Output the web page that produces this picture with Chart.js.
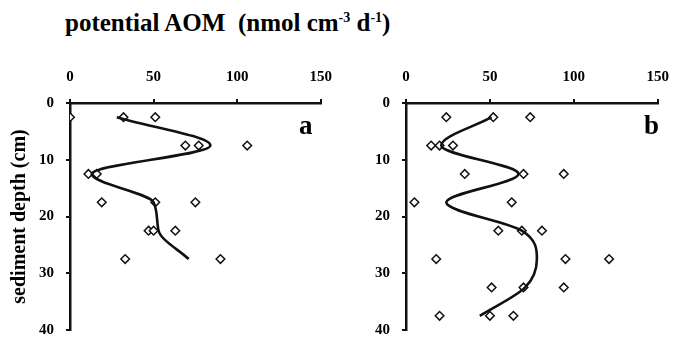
<!DOCTYPE html>
<html>
<head>
<meta charset="utf-8">
<script src="https://cdn.jsdelivr.net/npm/chart.js@4"></script>
<style>
  html, body { margin: 0; padding: 0; background: #fff; }
  body { width: 682px; height: 351px; position: relative; overflow: hidden; font-family: "Liberation Serif", "Times New Roman", serif; }
  #title { position: absolute; left: 65px; top: 9px; font-weight: bold; font-size: 25px; white-space: nowrap; color: #000; }
  #title sup { font-size: 14px; }
  .tag { position: absolute; font-weight: bold; font-size: 27px; color: #000; }
  .wrap { position: absolute; top: 55px; height: 296px; }
</style>
</head>
<body>
<div id="title">potential AOM &nbsp;(nmol cm<sup>-3</sup> d<sup>-1</sup>)</div>
<div class="wrap" style="left:0;width:345px"><canvas id="chartA"></canvas></div>
<div class="wrap" style="left:350px;width:332px"><canvas id="chartB"></canvas></div>
<div class="tag" style="left:299px;top:110px">a</div>
<div class="tag" style="left:644px;top:110px">b</div>
<script>
// panel a: measured rates
const depthA = [2.5, 2.5, 2.5, 7.5, 7.5, 7.5, 12.5, 12.5, 17.5, 17.5, 17.5, 22.5, 22.5, 22.5, 27.5, 27.5];
const aomA = [0, 32, 51, 69, 77, 106, 11, 16, 19, 51, 75, 47, 50, 63, 33, 90];
// panel a: fitted profile
const fitDepthA = [2.5, 7.5, 12.5, 17.5, 22.5, 27.5];
const fitA = [28, 84, 13, 50, 53, 71];

// panel b: measured rates
const depthB = [2.5, 2.5, 2.5, 7.5, 7.5, 7.5, 12.5, 12.5, 12.5, 17.5, 17.5, 22.5, 22.5, 22.5,
                27.5, 27.5, 27.5, 32.5, 32.5, 32.5, 37.5, 37.5, 37.5];
const aomB = [24, 52, 74, 15, 20, 28, 35, 70, 94, 5, 63, 55, 69, 81, 18, 95, 121, 51, 70, 94, 20, 50, 64];
// panel b: fitted profile
const fitDepthB = [2.5, 7.5, 12.5, 17.5, 22.5, 27.5, 32.5, 37.5];
const fitB = [51, 21, 67, 24, 69, 78, 71, 44];

const xTicks = [0, 50, 100, 150];
const yTicks = [0, 10, 20, 30, 40];

const serif = "'Liberation Serif', 'Times New Roman', serif";
const tickFont = { family: serif, size: 15, weight: 'bold' };

function pairs(xs, ys) {
  return xs.map((v, i) => ({ x: v, y: ys[i] }));
}

function makeChart(id, depths, vals, fitDepths, fit, yWidth, padRight, showTitle) {
  new Chart(document.getElementById(id), {
    type: 'line',
    data: {
      datasets: [
        {
          data: pairs(fit, fitDepths),
          borderColor: '#111',
          borderWidth: 2.6,
          pointRadius: 0,
          cubicInterpolationMode: 'monotone',
          fill: false
        },
        {
          data: pairs(vals, depths),
          showLine: false,
          pointStyle: 'rectRot',
          pointRadius: 4.3,
          pointBorderWidth: 1.5,
          pointBorderColor: '#111',
          pointBackgroundColor: '#fff'
        }
      ]
    },
    options: {
      indexAxis: 'y',
      responsive: true,
      maintainAspectRatio: false,
      animation: false,
      layout: { padding: { left: 0, top: 0, right: padRight, bottom: 8 } },
      plugins: { legend: { display: false }, tooltip: { enabled: false } },
      scales: {
        x: {
          type: 'linear',
          position: 'top',
          min: 0, max: 150,
          afterBuildTicks: s => { s.ticks = xTicks.map(v => ({ value: v })); },
          afterFit: s => { s.height = 48; },
          ticks: { font: tickFont, color: '#000', padding: 13, maxRotation: 0 },
          grid: { drawOnChartArea: false, drawTicks: true, tickLength: 4, color: '#111', lineWidth: 2 },
          border: { color: '#111', width: 2.5 }
        },
        y: {
          type: 'linear',
          reverse: true,
          min: 0, max: 40,
          afterBuildTicks: s => { s.ticks = yTicks.map(v => ({ value: v })); },
          afterFit: s => { s.width = yWidth; },
          ticks: { font: tickFont, color: '#000', padding: 12 },
          grid: { drawOnChartArea: false, drawTicks: true, tickLength: 4, color: '#111', lineWidth: 2 },
          border: { color: '#111', width: 2.5 },
          title: {
            display: showTitle,
            text: 'sediment depth (cm)',
            color: '#000',
            font: { family: serif, size: 20, weight: 'bold' },
            padding: { top: 8, bottom: 0 }
          }
        }
      }
    }
  });
}

makeChart('chartA', depthA, aomA, fitDepthA, fitA, 70, 10, true);
makeChart('chartB', depthB, aomB, fitDepthB, fitB, 56, 12, false);
</script>
</body>
</html>
